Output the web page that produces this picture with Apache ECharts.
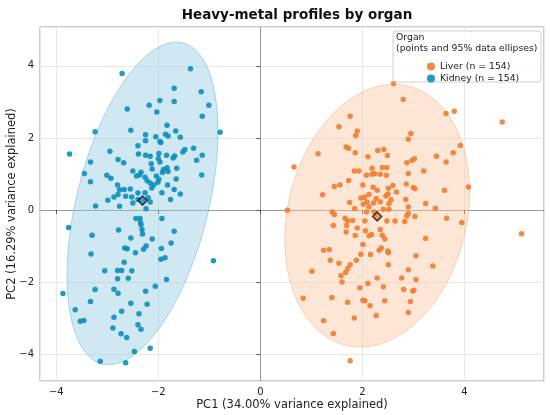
<!DOCTYPE html>
<html lang="en">
<head>
    <meta charset="UTF-8">
    <title>Heavy-metal profiles by organ</title>
    <script src="https://cdn.jsdelivr.net/npm/echarts@6/dist/echarts.min.js"></script>
</head>
<body style="margin:0;background:#fff;">
    <div id="main" style="width:550px;height:415px;"></div>
<script>
    // PC scores
    var liverPoints = [
        [2.61, 3.51], [2.80, 3.07], [3.64, 2.68], [3.80, 2.74], [4.74, 2.44], [1.76, 2.60], [1.54, 2.31], [1.90, 2.19],
        [1.87, 2.07], [2.95, 2.12], [2.90, 1.96], [3.92, 1.79], [3.78, 1.59], [1.13, 1.56], [1.68, 1.75], [1.73, 1.71],
        [1.86, 1.59], [2.11, 1.48], [2.30, 1.65], [2.42, 1.68], [2.49, 1.51], [3.45, 1.49], [3.64, 1.33], [0.66, 1.19],
        [2.97, 1.37], [3.02, 1.42], [2.87, 1.31], [2.19, 1.16], [2.39, 1.18], [2.48, 1.18], [1.84, 1.08], [1.93, 1.08],
        [2.08, 0.96], [2.19, 0.99], [2.24, 1.01], [2.35, 0.99], [2.47, 0.96], [3.20, 1.08], [2.90, 1.01], [1.73, 0.82],
        [1.45, 0.65], [1.56, 0.69], [2.01, 0.69], [2.21, 0.63], [2.29, 0.55], [2.51, 0.60], [2.60, 0.68], [2.86, 0.72],
        [3.00, 0.62], [3.03, 0.59], [3.61, 0.55], [4.08, 0.64], [1.22, 0.42], [2.13, 0.43], [1.97, 0.33], [2.04, 0.35],
        [2.27, 0.32], [2.46, 0.39], [2.50, 0.44], [2.56, 0.28], [2.67, 0.50], [1.75, 0.21], [1.85, 0.04], [2.02, 0.16],
        [2.09, 0.22], [2.13, 0.09], [2.52, 0.18], [2.85, 0.29], [3.24, 0.18], [0.53, -0.01], [1.41, -0.06], [1.45, -0.13],
        [1.66, -0.23], [2.08, -0.06], [2.23, -0.06], [2.90, 0.08], [2.90, -0.10], [3.03, -0.18], [3.65, -0.23],
        [2.22, 0.19], [2.35, 0.23], [2.52, 0.02], [2.41, 0.02], [2.87, -0.17], [3.43, 0.05], [3.95, -0.35], [5.12, -0.66],
        [1.71, -0.31], [1.81, -0.29], [2.05, -0.31], [2.48, -0.31], [2.64, -0.31], [2.83, -0.32], [1.43, -0.43], [1.69, -0.43],
        [1.90, -0.50], [1.68, -0.61], [2.06, -0.58], [2.18, -0.68], [2.13, -0.72], [1.86, -0.71], [2.35, -0.54], [2.39, -0.70],
        [2.44, -0.81], [3.24, -0.79], [2.01, -0.96], [2.37, -1.06], [2.33, -1.12], [2.50, -1.14], [2.51, -1.19], [1.24, -1.12],
        [1.35, -1.10], [1.97, -1.23], [2.16, -1.24], [3.05, -1.27], [1.37, -1.40], [1.88, -1.40], [1.54, -1.48], [1.76, -1.52],
        [2.51, -1.52], [3.38, -1.56], [1.71, -1.63], [1.67, -1.74], [1.58, -1.83], [1.01, -1.70], [2.90, -1.66], [2.29, -1.89],
        [2.77, -1.89], [3.05, -1.93], [1.60, -2.00], [2.11, -2.04], [2.41, -2.13], [1.95, -2.16], [2.81, -2.21], [2.99, -2.25],
        [3.01, -2.23], [0.84, -2.45], [1.40, -2.43], [2.01, -2.51], [2.05, -2.52], [2.44, -2.52], [2.94, -2.54], [1.71, -2.56],
        [2.15, -2.66], [2.27, -2.93], [2.90, -2.85], [1.84, -3.00], [1.24, -3.08], [1.43, -3.43], [1.76, -4.19]
    ];
    var kidneyPoints = [
        [-2.71, 3.79], [-1.37, 3.92], [-1.69, 3.38], [-1.16, 3.28], [-1.01, 2.91], [-2.61, 2.80], [-2.18, 2.91], [-1.97, 3.04],
        [-1.69, 3.01], [-2.03, 2.72], [-1.14, 2.60], [-3.24, 2.17], [-2.54, 2.21], [-0.79, 2.16], [-2.25, 2.09], [-1.83, 2.35],
        [-1.66, 2.19], [-2.05, 2.03], [-1.86, 2.10], [-1.81, 2.05], [-1.57, 2.02], [-2.25, 1.92], [-1.97, 1.90], [-2.40, 1.78],
        [-3.74, 1.55], [-2.95, 1.63], [-2.39, 1.55], [-2.25, 1.52], [-2.16, 1.49], [-1.99, 1.57], [-1.84, 1.52], [-1.68, 1.50],
        [-1.48, 1.68], [-1.31, 1.71], [-1.14, 1.52], [-1.25, 1.38], [-1.52, 1.61], [-3.33, 1.33], [-2.79, 1.40], [-2.68, 1.31],
        [-2.14, 1.28], [-2.00, 1.43], [-1.97, 1.33], [-1.71, 1.44], [-2.12, 1.14], [-1.90, 1.12], [-1.83, 1.17], [-1.81, 1.07],
        [-2.50, 1.08], [-2.43, 0.94], [-2.34, 1.05], [-2.37, 0.97], [-3.45, 1.01], [-3.01, 0.96], [-2.93, 0.88], [-2.26, 0.91],
        [-2.04, 0.94], [-2.22, 0.81], [-2.16, 0.75], [-2.09, 0.69], [-2.01, 0.77], [-1.99, 0.85], [-1.65, 0.86], [-1.15, 0.97],
        [-3.33, 0.78], [-2.80, 0.69], [-2.76, 0.56], [-2.67, 0.57], [-2.55, 0.58], [-1.82, 0.69], [-1.69, 0.57], [-1.93, 0.48],
        [-1.57, 0.44], [-2.13, 0.61], [-2.26, 0.48], [-2.40, 0.47], [-2.87, 0.36], [-2.79, 0.43], [-2.64, 0.38], [-2.52, 0.36],
        [-1.95, 1.87], [-2.40, 0.29], [-1.64, 1.16], [-1.92, 1.04],
        [-2.20, 0.34], [-1.76, 0.29], [-2.50, 0.19], [-2.16, 0.22], [-2.99, 0.27], [-3.23, 0.11], [-2.76, 0.10], [-2.24, 0.03],
        [-3.76, -0.49], [-3.30, -0.70], [-2.78, -0.56], [-2.44, -0.24], [-2.36, -0.24], [-2.35, -0.35], [-2.34, -0.41], [-1.93, -0.24],
        [-2.32, -0.54], [-2.31, -0.67], [-1.69, -0.59], [-2.54, -0.78], [-2.12, -0.81], [-1.75, -0.92], [-2.24, -1.00], [-2.29, -1.09],
        [-2.66, -1.06], [-2.61, -1.08], [-2.45, -1.19], [-1.94, -1.07], [-3.32, -1.22], [-1.95, -1.37], [-1.87, -1.33], [-0.92, -1.41],
        [-2.67, -1.45], [-3.05, -1.69], [-2.80, -1.68], [-2.72, -1.68], [-2.52, -1.69], [-2.80, -1.91], [-2.59, -1.90], [-1.84, -1.93],
        [-2.06, -2.12], [-3.24, -2.21], [-2.87, -2.20], [-2.79, -2.31], [-2.25, -2.26], [-3.87, -2.32], [-3.33, -2.54], [-2.54, -2.59],
        [-2.22, -2.62], [-3.63, -2.77], [-2.72, -2.81], [-2.38, -2.88], [-3.53, -3.09], [-3.46, -3.07], [-2.87, -2.98], [-2.89, -3.28],
        [-2.40, -3.19], [-2.34, -3.31], [-2.73, -3.44], [-2.62, -3.54], [-2.16, -3.84], [-2.47, -3.93], [-3.14, -4.20], [-2.64, -4.24]
    ];
    var liverMean = [2.29, -0.18];
    var kidneyMean = [-2.31, 0.26];
    // 95% ellipse: [cx, cy, sxx, sxy, syy] (covariance already scaled by chi2)
    var liverEllipse = [2.29, -0.16, 3.28, 1.20, 13.30];
    var kidneyEllipse = [-2.31, 0.18, 2.19, 2.96, 20.07];
    var seriesNames = ['Liver (n = 154)', 'Kidney (n = 154)'];
    var xRange = [-4.32, 5.56];
    var yRange = [-4.75, 5.08];

    var orange = '#ef7d2f';
    var blue = '#0b8fbd';
    var font = 'DejaVu Sans';

    function minusFmt(v) {
        return String(v).replace('-', '\u2212');
    }

    function ellipseSeries(p, fill, edge) {
        return {
            type: 'custom',
            silent: true,
            clip: true,
            z: 1,
            data: [p],
            renderItem: function (params, api) {
                var a = Math.sqrt(p[2]);
                var b = p[3] / a;
                var c = Math.sqrt(p[4] - b * b);
                var pts = [];
                for (var i = 0; i <= 160; i++) {
                    var t = i / 160 * Math.PI * 2;
                    pts.push(api.coord([p[0] + a * Math.cos(t), p[1] + b * Math.cos(t) + c * Math.sin(t)]));
                }
                return {
                    type: 'polygon',
                    shape: { points: pts },
                    style: { fill: fill, stroke: edge, lineWidth: 1 }
                };
            }
        };
    }

    function axisCommon(name, range) {
        return {
            type: 'value',
            min: range[0],
            max: range[1],
            splitNumber: 5,
            name: name,
            nameLocation: 'middle',
            nameMoveOverlap: false,
            nameTextStyle: { fontFamily: font, fontSize: 11.5, color: '#222' },
            axisLine: { show: true, lineStyle: { color: '#9a9a9a', width: 1 } },
            axisTick: { show: true, length: 4, lineStyle: { color: '#555' } },
            axisLabel: {
                showMinLabel: false, showMaxLabel: false,
                fontFamily: font, fontSize: 10, color: '#222',
                formatter: minusFmt
            },
            splitLine: { show: true, lineStyle: { color: '#e8e8e8', width: 1 } }
        };
    }

    var myChart = echarts.init(document.getElementById('main'));

    var xAxis = axisCommon('PC1 (34.00% variance explained)', xRange);
    xAxis.nameGap = 18;
    xAxis.axisLabel.margin = 6;
    var yAxis = axisCommon('PC2 (16.29% variance explained)', yRange);
    yAxis.nameGap = 22;
    yAxis.axisLabel.margin = 6;

    var option = {
        animation: false,
        title: {
            text: 'Heavy-metal profiles by organ',
            left: 292,
            top: 3,
            textAlign: 'center',
            textStyle: { fontFamily: font, fontSize: 13.5, fontWeight: 'bold', color: '#111' }
        },
        grid: {
            left: 40, right: 6, top: 27, bottom: 34,
            outerBoundsMode: 'none',
            containLabel: false,
            show: true, borderColor: '#9a9a9a', borderWidth: 1
        },
        xAxis: xAxis,
        yAxis: yAxis,
        legend: {
            orient: 'vertical',
            left: 422,
            top: 57,
            z: 95,
            itemGap: 3,
            itemWidth: 8,
            itemHeight: 8,
            icon: 'circle',
            data: seriesNames,
            textStyle: { fontFamily: font, fontSize: 9.3, color: '#222' }
        },
        graphic: [
            {
                type: 'rect', z: 90,
                shape: { x: 393, y: 31, width: 148, height: 51, r: 3 },
                style: { fill: 'rgba(255,255,255,0.85)', stroke: '#d0d0d0', lineWidth: 1 }
            },
            {
                type: 'text', z: 91, left: 396, top: 33,
                style: { text: 'Organ', font: '9.3px "DejaVu Sans"', fill: '#222' }
            },
            {
                type: 'text', z: 91, left: 396, top: 44,
                style: { text: '(points and 95% data ellipses)', font: '9.3px "DejaVu Sans"', fill: '#222' }
            }
        ],
        series: [
            ellipseSeries(liverEllipse, 'rgba(250,200,165,0.45)', 'rgba(239,125,47,0.3)'),
            ellipseSeries(kidneyEllipse, 'rgba(150,205,225,0.45)', 'rgba(11,143,189,0.3)'),
            {
                name: seriesNames[0], type: 'scatter', z: 3,
                symbolSize: 5.5, data: liverPoints,
                itemStyle: { color: orange, opacity: 0.9 }
            },
            {
                name: seriesNames[1], type: 'scatter', z: 3,
                symbolSize: 5.5, data: kidneyPoints,
                itemStyle: { color: blue, opacity: 0.9 }
            },
            {
                type: 'scatter', z: 4, symbol: 'diamond', symbolSize: 9,
                data: [liverMean],
                itemStyle: { color: orange, borderColor: '#111', borderWidth: 1.5 }
            },
            {
                type: 'scatter', z: 4, symbol: 'diamond', symbolSize: 9,
                data: [kidneyMean],
                itemStyle: { color: blue, borderColor: '#111', borderWidth: 1.5 }
            }
        ]
    };

    option && myChart.setOption(option);
</script>
</body>
</html>
